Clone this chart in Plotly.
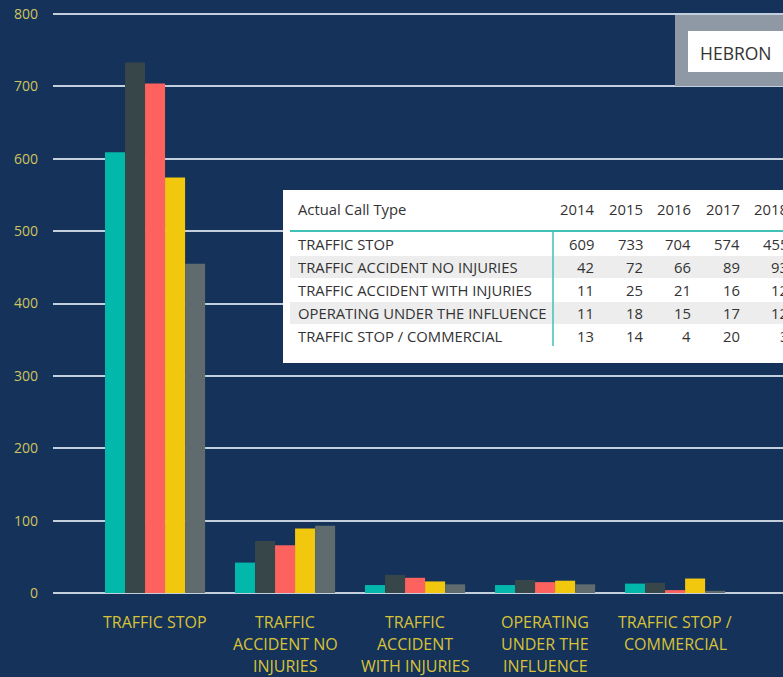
import plotly.graph_objects as go

categories = ["TRAFFIC STOP", "TRAFFIC ACCIDENT NO INJURIES", "TRAFFIC ACCIDENT WITH INJURIES",
              "OPERATING UNDER THE INFLUENCE", "TRAFFIC STOP / COMMERCIAL"]
tick_labels = ["TRAFFIC STOP", "TRAFFIC<br>ACCIDENT NO<br>INJURIES", "TRAFFIC<br>ACCIDENT<br>WITH INJURIES",
               "OPERATING<br>UNDER THE<br>INFLUENCE", "TRAFFIC STOP /<br>COMMERCIAL"]
years = ["2014", "2015", "2016", "2017", "2018"]
v2014 = [609, 42, 11, 11, 13]
v2015 = [733, 72, 25, 18, 14]
v2016 = [704, 66, 21, 15, 4]
v2017 = [574, 89, 16, 17, 20]
v2018 = [455, 93, 12, 12, 3]
series = [v2014, v2015, v2016, v2017, v2018]
colors = ["#01B8AA", "#374649", "#FD625E", "#F2C80F", "#5F6B6D"]
y_ticks = [0, 100, 200, 300, 400, 500, 600, 700, 800]

W, H = 783, 677
L, R, T, B = 53, 0, 10, 84
pw, ph = W - L - R, H - T - B
y_top = 800 + 4 / (579 / 800)

def px(x):
    return (x - L) / pw

def py(y):
    return (H - B - y) / ph

fig = go.Figure()
for yr, vals, c in zip(years, series, colors):
    fig.add_trace(go.Bar(x=categories, y=vals, name=yr, marker=dict(color=c, line=dict(width=0))))

bg = "#14325A"
xlab_color = "#D9C238"
fig.update_layout(
    width=W, height=H,
    margin=dict(l=L, r=R, t=T, b=B, pad=0),
    paper_bgcolor=bg, plot_bgcolor=bg,
    barmode="group", bargap=0.23, bargroupgap=0,
    showlegend=False,
    font=dict(family="Open Sans, sans-serif"),
    xaxis=dict(range=[-0.785, 4.83], showticklabels=False,
               showgrid=False, zeroline=False, showline=False),
    yaxis=dict(range=[0, y_top], tickmode="array", tickvals=y_ticks,
               showgrid=True, gridcolor="#C3CFDC", gridwidth=2,
               zeroline=True, zerolinecolor="#C3CFDC", zerolinewidth=2,
               tickfont=dict(color="#CFC45E", size=14, family="Open Sans"),
               ticklabelstandoff=14),
)

shapes = []
annotations = []
# category labels (one annotation per line for exact line spacing)
for cat, lab in zip(categories, tick_labels):
    for k, line in enumerate(lab.split("<br>")):
        annotations.append(dict(text=line, xref="x", yref="paper", x=cat, y=py(622 + 22 * k),
                                xanchor="center", yanchor="middle", showarrow=False,
                                font=dict(size=16, color=xlab_color, family="Open Sans")))

# HEBRON slicer box
shapes.append(dict(type="rect", xref="paper", yref="paper", x0=px(675), x1=px(795), y0=py(86), y1=py(15),
                   fillcolor="#8E99A5", line=dict(width=0), layer="above"))
shapes.append(dict(type="rect", xref="paper", yref="paper", x0=px(688), x1=px(795), y0=py(72), y1=py(31),
                   fillcolor="#FFFFFF", line=dict(width=0), layer="above"))
annotations.append(dict(text="HEBRON", xref="paper", yref="paper", x=px(698), y=py(53), xanchor="left",
                        yanchor="middle", showarrow=False, font=dict(size=17.5, color="#333333", family="Open Sans")))

# Table
shapes.append(dict(type="rect", xref="paper", yref="paper", x0=px(283), x1=px(795), y0=py(363), y1=py(190),
                   fillcolor="#FFFFFF", line=dict(width=0), layer="above"))
row_y0 = 244
row_h = 23
for i in range(len(categories)):
    if i % 2 == 1:
        yc = row_y0 + i * row_h
        shapes.append(dict(type="rect", xref="paper", yref="paper", x0=px(290), x1=px(795),
                           y0=py(yc + 11), y1=py(yc - 11), fillcolor="#EDEDED", line=dict(width=0), layer="above"))
shapes.append(dict(type="line", xref="paper", yref="paper", x0=px(290), x1=px(795), y0=py(231), y1=py(231),
                   line=dict(color="#3FC1B6", width=2), layer="above"))
shapes.append(dict(type="line", xref="paper", yref="paper", x0=px(553), x1=px(553), y0=py(231), y1=py(346),
                   line=dict(color="#3FC1B6", width=1.5), layer="above"))
tfont = dict(size=14.8, color="#333333", family="Open Sans")
annotations.append(dict(text="Actual Call Type", xref="paper", yref="paper", x=px(296), y=py(209),
                        xanchor="left", yanchor="middle", showarrow=False, font=tfont))
col_right0 = 596
col_w = 48.5
for j, yr in enumerate(years):
    annotations.append(dict(text=yr, xref="paper", yref="paper", x=px(col_right0 + j * col_w), y=py(209),
                            xanchor="right", yanchor="middle", showarrow=False, font=tfont))
for i, cat in enumerate(categories):
    yc = row_y0 + i * row_h
    annotations.append(dict(text=cat, xref="paper", yref="paper", x=px(296), y=py(yc),
                            xanchor="left", yanchor="middle", showarrow=False, font=tfont))
    for j, vals in enumerate(series):
        annotations.append(dict(text=str(vals[i]), xref="paper", yref="paper", x=px(col_right0 + j * col_w),
                                y=py(yc), xanchor="right", yanchor="middle", showarrow=False, font=tfont))

fig.update_layout(shapes=shapes, annotations=annotations)
fig.write_html("out.html", config={"displayModeBar": False},
               post_script="document.body.style.margin='0';")
